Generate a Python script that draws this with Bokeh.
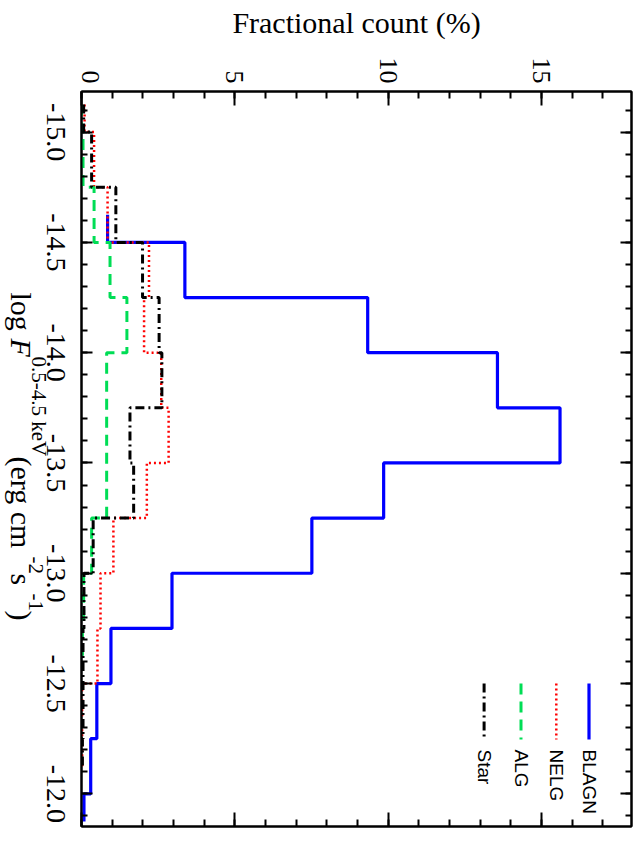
import math
from bokeh.plotting import figure
from bokeh.layouts import row
from bokeh.models import (Range1d, LinearAxis, SingleIntervalTicker, FixedTicker,
                          CustomJSTickFormatter, Label, ColumnDataSource)
from bokeh.embed import file_html
from bokeh.resources import INLINE

# ---------------- data (bin centres in log flux, fractional count %) ----------------
blagn_flux = [-14.625, -14.375, -14.125, -13.875, -13.625, -13.375, -13.125,
              -12.875, -12.625, -12.375, -12.125, -11.875]
blagn_pct = [0.85, 3.37, 9.33, 13.56, 15.60, 9.85, 7.51, 2.95, 0.96, 0.50, 0.30, 0.08]

nelg_flux = [-15.125, -14.875, -14.625, -14.375, -14.125, -13.875, -13.625,
             -13.375, -13.125, -12.875, -12.625, -12.375, -12.125]
nelg_pct = [0.10, 0.41, 0.85, 2.20, 2.04, 2.60, 2.84, 2.13, 1.04, 0.62, 0.52, 0.02, 0.02]

alg_flux = [-15.125, -14.875, -14.625, -14.375, -14.125, -13.875, -13.625,
            -13.375, -13.125, -12.875, -12.625]
alg_pct = [0.0, 0.05, 0.41, 0.93, 1.48, 0.82, 0.82, 0.82, 0.33, 0.07, 0.03]

star_flux = [-15.125, -14.875, -14.625, -14.375, -14.125, -13.875, -13.625,
             -13.375, -13.125, -12.875, -12.625, -12.375, -12.125]
star_pct = [0.07, 0.33, 1.12, 1.99, 2.53, 2.62, 1.58, 1.70, 0.38, 0.08, 0.05, 0.05, 0.03]

series_names = ["BLAGN", "NELG", "ALG", "Star"]
count_ticks = [0, 5, 10, 15]
flux_ticks = [-15.0, -14.5, -14.0, -13.5, -13.0, -12.5, -12.0]
flux_tick_labels = ["-15.0", "-14.5", "-14.0", "-13.5", "-13.0", "-12.5", "-12.0"]
count_title = "Fractional count (%)"

# ---------------- layout ----------------
FONT = "Liberation Serif"
X_RANGE = (0.0, 17.93)
Y_TOP, Y_BOTTOM = -15.184, -11.852
FL, FR, FT, FB = 81.0, 631.0, 91.0, 826.0     # frame edges in page pixels
LW = 74                                        # width of the left label strip
W, H = 634, 841
ZERO_SHIFT_PX = 9                              # the "0" label sits just right of the frame
PX_PER_COUNT = (FR - FL) / (X_RANGE[1] - X_RANGE[0])


def px_x(X):
    return X_RANGE[0] + (X - FL) / PX_PER_COUNT


def px_y(Y):
    return Y_TOP + (Y - FT) / (FB - FT) * (Y_BOTTOM - Y_TOP)


def step_path(centres, values):
    """IDL psym=10 style histogram path (half bins at both ends)."""
    n = len(centres)
    xs, ys = [], []
    for i in range(n):
        lo = centres[0] if i == 0 else 0.5 * (centres[i - 1] + centres[i])
        hi = centres[-1] if i == n - 1 else 0.5 * (centres[i] + centres[i + 1])
        xs += [values[i], values[i]]
        ys += [lo, hi]
    return xs, ys


y_range = Range1d(Y_BOTTOM, Y_TOP)

p = figure(width=W - LW, height=H,
           min_border_left=int(FL) - LW, min_border_right=W - int(FR),
           min_border_top=int(FT), min_border_bottom=H - int(FB),
           x_range=Range1d(*X_RANGE), y_range=y_range,
           x_axis_location="above", y_axis_location="left",
           output_backend="svg", toolbar_location=None)
p.xgrid.visible = False
p.ygrid.visible = False
p.outline_line_color = "black"
p.outline_line_width = 2
p.background_fill_color = "white"
p.border_fill_color = "white"

BLANK = CustomJSTickFormatter(code="return ''")


def style_axis(ax, ticker, major_in, minor_in):
    ax.ticker = ticker
    ax.axis_line_width = 2
    ax.axis_line_color = "black"
    ax.major_tick_in = major_in
    ax.major_tick_out = 0
    ax.minor_tick_in = minor_in
    ax.minor_tick_out = 0
    ax.major_tick_line_width = 2
    ax.minor_tick_line_width = 2
    ax.major_tick_line_color = "black"
    ax.minor_tick_line_color = "black"
    ax.major_label_text_font = FONT
    ax.major_label_text_color = "black"


def blank_labels(ax):
    ax.formatter = BLANK
    ax.major_label_text_font_size = "1px"
    ax.major_label_standoff = 0
    ax.axis_label = None


# count axis: ticks on top and bottom frame edges
top = p.xaxis[0]
style_axis(top, SingleIntervalTicker(interval=5, num_minor_ticks=5), 14, 7)
blank_labels(top)
bottom_ax = LinearAxis()
style_axis(bottom_ax, SingleIntervalTicker(interval=5, num_minor_ticks=5), 14, 7)
blank_labels(bottom_ax)
p.add_layout(bottom_ax, "below")

# count axis labels + title (label-only axis above the ticked one)
label_pos = [c + (ZERO_SHIFT_PX / PX_PER_COUNT if c == 0 else 0) for c in count_ticks]
top_lab = LinearAxis(ticker=FixedTicker(ticks=label_pos, minor_ticks=[]),
                     formatter=CustomJSTickFormatter(code="return Math.round(tick).toString()"))
top_lab.axis_line_color = None
top_lab.major_tick_line_color = None
top_lab.minor_tick_line_color = None
top_lab.major_tick_out = 0
top_lab.major_tick_in = 0
top_lab.major_label_orientation = -math.pi / 2
top_lab.major_label_text_font = FONT
top_lab.major_label_text_font_size = "26px"
top_lab.major_label_text_color = "black"
top_lab.major_label_standoff = 8
top_lab.axis_label = count_title
top_lab.axis_label_text_font = FONT
top_lab.axis_label_text_font_size = "30px"
top_lab.axis_label_text_font_style = "normal"
top_lab.axis_label_text_color = "black"
top_lab.axis_label_standoff = 16
p.add_layout(top_lab, "above")

# flux axis: ticks on left and right frame edges (labels drawn in the strip)
left_ax = p.yaxis[0]
style_axis(left_ax, SingleIntervalTicker(interval=0.5, num_minor_ticks=5), 11, 6)
blank_labels(left_ax)
right_ax = LinearAxis()
style_axis(right_ax, SingleIntervalTicker(interval=0.5, num_minor_ticks=5), 11, 6)
blank_labels(right_ax)
p.add_layout(right_ax, "right")

# ---------------- histograms ----------------
styles = [
    (blagn_flux, blagn_pct, "#0000FF", 3.2, "solid"),
    (nelg_flux, nelg_pct, "#FF0000", 2.5, "2 3"),
    (alg_flux, alg_pct, "#00DD55", 3.0, "11 7"),
    (star_flux, star_pct, "#000000", 3.0, "9 4 2 4"),
]
for fl, pc, col, lw, dash in styles:
    xs, ys = step_path(fl, pc)
    p.line(x="x", y="y", source=ColumnDataSource(dict(x=xs, y=ys)),
           line_color=col, line_width=lw, line_dash=dash)

# ---------------- legend (rotated, drawn by hand) ----------------
leg_x_pages = [588.5, 555.8, 520.5, 483.6]
for (fl, pc, col, lw, dash), name, X in zip(styles, series_names, leg_x_pages):
    p.line(x=[px_x(X), px_x(X)], y=[px_y(683), px_y(739)],
           line_color=col, line_width=lw, line_dash=dash)
    p.add_layout(Label(x=px_x(X), y=px_y(749), text=name, angle=-math.pi / 2,
                       text_align="left", text_baseline="middle",
                       text_font="Liberation Sans", text_font_size="19px",
                       text_color="black"))

# ---------------- left strip: flux tick labels and flux axis title ----------------
strip = figure(width=LW, height=H, min_border_left=0, min_border_right=0,
               min_border_top=int(FT), min_border_bottom=H - int(FB),
               x_range=Range1d(0, LW), y_range=y_range,
               x_axis_type=None, y_axis_type=None,
               output_backend="svg", toolbar_location=None)
strip.outline_line_color = None
strip.background_fill_color = "white"
strip.border_fill_color = "white"

for t, lab in zip(flux_ticks, flux_tick_labels):
    strip.add_layout(Label(x=55, y=t, text=lab, angle=-math.pi / 2,
                           text_align="center", text_baseline="middle",
                           text_font=FONT, text_font_size="28px",
                           text_color="black"))

pieces = [
    ("log ", 30, "normal", 21, 292),
    ("F", 30, "italic", 21, 338),
    ("0.5-4.5 keV", 21, "normal", 38, 356),
    (" (erg cm", 30, "normal", 21, 456),
    ("-2", 21, "normal", 35, 556),
    (" s", 30, "normal", 21, 573),
    ("-1", 21, "normal", 35, 593),
    (")", 30, "normal", 21, 610),
]
for txt, size, style, X, Y in pieces:
    strip.add_layout(Label(x=X, y=px_y(Y), text=txt, angle=-math.pi / 2,
                           text_align="left", text_baseline="middle",
                           text_font=FONT, text_font_size=f"{size}px",
                           text_font_style=style, text_color="black"))

layout = row(strip, p)
open("out.html", "w").write(file_html(layout, INLINE))
